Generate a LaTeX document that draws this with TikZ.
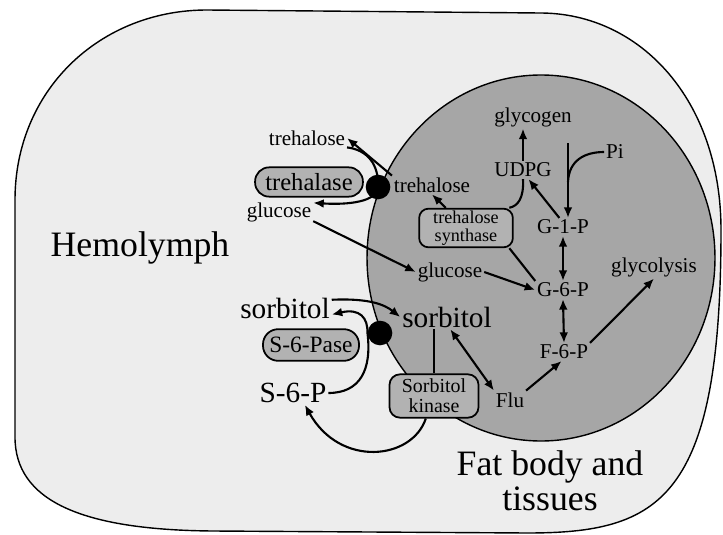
\documentclass[tikz,border=0pt]{standalone}
\usepackage{fontspec}
\setmainfont{Liberation Serif}
\usetikzlibrary{arrows.meta,calc}

\begin{document}
\begin{tikzpicture}[x=0.03cm,y=-0.03cm,>={Latex[length=9pt,width=7.5pt]},
  flow/.style={line width=1.8pt},
  lab/.style={inner sep=1.5pt,font=\fontsize{18}{18}\selectfont},
  mid/.style={inner sep=1.5pt,font=\fontsize{25}{25}\selectfont},
  big/.style={inner sep=1.5pt,font=\fontsize{30.5}{30}\selectfont},
  enzyme/.style={draw,line width=1.5pt,fill=black!30,inner sep=1pt,align=center},
  dot/.style={circle,fill=black,inner sep=0pt,minimum size=21pt}]
  \useasboundingbox (0,0) rectangle (723,535);
  \draw[fill=black!7,line width=1.2pt] (15,200) .. controls (15,90) and (100,10) .. (207,10)
    -- (540,13) .. controls (640,13) and (721,100) .. (721,230)
    .. controls (721,500) and (660,533) .. (527,533) -- (213,531)
    .. controls (80,530) and (15,500) .. (15,437) -- cycle;
  \draw[fill=black!35,line width=1.2pt] (541,258) ellipse [x radius=148.5pt,y radius=156.2pt];
  \node[big] (hemo) at (140,248) {Hemolymph};
  \node[big,align=center] (fat) at (550,481) {Fat body and\\tissues};
  \node[lab] (treL) at (307,138) {trehalose};
  \node[lab] (glucL) at (279,212) {glucose};
  \node[dot] (dotT) at (378,187) {};
  \node[enzyme,rounded corners=12pt,minimum width=92pt,minimum height=25pt,
    font=\fontsize{21}{21}\selectfont] (tlase) at (309,182) {trehalase};
  \node[lab] (treI) at (432,185) {trehalose};
  \node[lab] (glucI) at (450,272) {glucose};
  \node[enzyme,rounded corners=8pt,minimum width=80pt,minimum height=33pt,
    font=\fontsize{15.5}{15.5}\selectfont] (tsyn) at (466,228) {trehalose\\synthase};
  \node[lab] (glycogen) at (533,117) {glycogen};
  \node[lab] (UDPG) at (523,170) {UDPG};
  \node[lab] (Pi) at (615,152) {Pi};
  \node[lab] (G1P) at (563,227) {G-1-P};
  \node[lab] (G6P) at (563,290) {G-6-P};
  \node[lab] (F6P) at (564,352) {F-6-P};
  \node[lab] (glycolysis) at (654,267) {glycolysis};
  \node[lab] (Flu) at (510,400) {Flu};
  \node[mid] (sorbL) at (285,308) {sorbitol};
  \node[mid] (sorbI) at (447,317) {sorbitol};
  \node[mid] (S6P) at (293,393) {S-6-P};
  \node[dot] (dotS) at (380,333) {};
  \node[enzyme,rounded corners=13pt,minimum width=82pt,minimum height=27pt,
    font=\fontsize{20}{20}\selectfont] (s6pase) at (311,345) {S-6-Pase};
  \node[enzyme,rounded corners=9pt,minimum width=76pt,minimum height=37pt,
    font=\fontsize{17}{17}\selectfont] (skin) at (434,396) {Sorbitol\\kinase};
  \coordinate (gly1) at (568,143);
  \coordinate (piJ) at (568,182);
  \draw[flow,->] (treL.south east) .. controls (368,150) and (379,165) .. (dotT.center)
    .. controls (377,202) and (348,205) .. (glucL.15);
  \draw[flow,->] (treI.north west) -- (treL.east);
  \draw[flow,->] (tsyn.135) -- (treI.south);
  \draw[flow] (UDPG.south) .. controls (524,198) and (518,206) .. (tsyn.25);
  \draw[flow] (tsyn.-25) -- (G6P.north west);
  \draw[flow,->] (glucL.-15) -- (glucI.west);
  \draw[flow,->] (UDPG.north) -- (UDPG.north |- glycogen.south);
  \draw[flow,->] (gly1) -- (gly1 |- G1P.north);
  \draw[flow] (Pi.west) .. controls (585,152) and (569,160) .. (piJ);
  \draw[flow,->] (G1P.112) -- (UDPG.-59);
  \draw[flow,<->] (G1P.south) -- (G6P.north);
  \draw[flow,<->] (G6P.south) -- (F6P.north);
  \draw[flow,->] (glucI.east) -- (G6P.west);
  \draw[flow,->] (F6P.north east) -- (glycolysis.south);
  \draw[flow,->] (Flu.north east) -- (F6P.-105);
  \draw[flow,<->] (sorbI.-75) -- (Flu.north west);
  \draw[flow] (skin.north |- sorbI.south) -- (skin.north);
  \draw[flow,->] (sorbL.10) .. controls (370,298) and (385,305) .. (sorbI.west);
  \draw[flow,->] (S6P.east) .. controls (360,393) and (372,370) .. (dotS.west)
    .. controls (368,318) and (360,308) .. (sorbL.-8);
  \draw[flow,->] (skin.-110) .. controls (412,460) and (340,468) .. (S6P.-45);
\end{tikzpicture}
\end{document}
